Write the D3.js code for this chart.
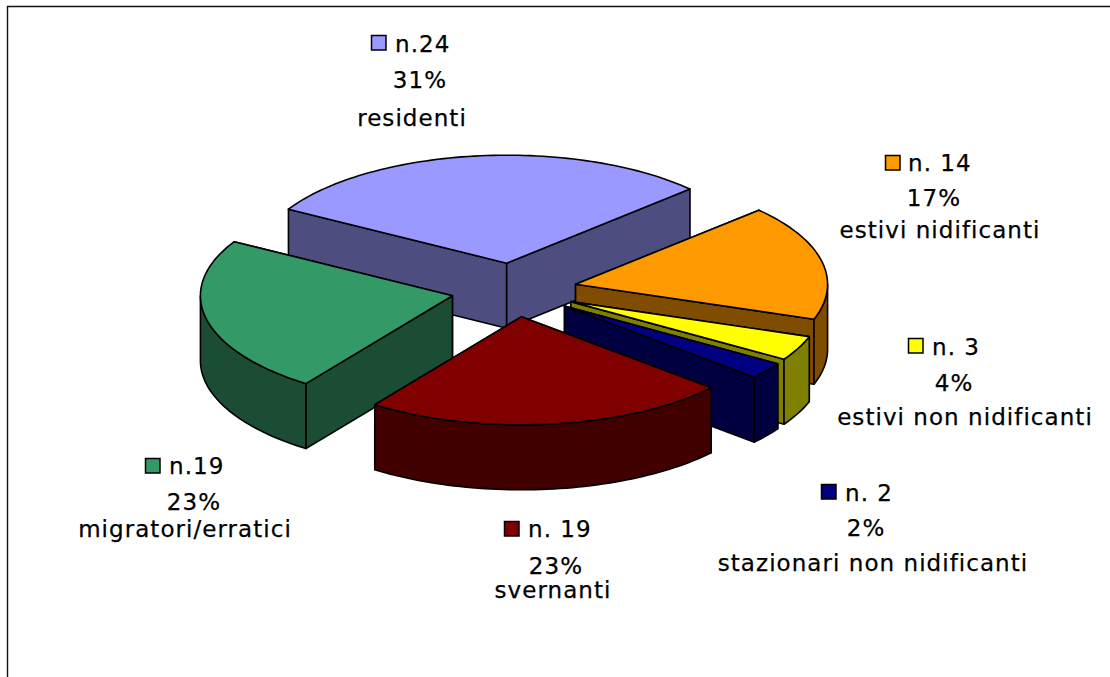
<!DOCTYPE html>
<html>
<head>
<meta charset="utf-8">
<script src="https://cdn.jsdelivr.net/npm/d3@7"></script>
<style>
  html, body { margin: 0; padding: 0; background: #fff; }
  svg { display: block; }
  .pie-label { font-family: "DejaVu Sans", sans-serif; font-size: 23px; letter-spacing: 1.05px; fill: #000; stroke: #000; stroke-width: 0.25px; }
</style>
</head>
<body>
<div id="chart"></div>
<script>
// counts and labels
const categories = ["residenti", "estivi nidificanti", "estivi non nidificanti", "stazionari non nidificanti", "svernanti", "migratori/erratici"];
const counts = [24, 14, 3, 2, 19, 19];
const countLabels = ["n.24", "n. 14", "n. 3", "n. 2", "n. 19", "n.19"];
const percentLabels = ["31%", "17%", "4%", "2%", "23%", "23%"];
const topColors = ["#9999ff", "#ff9900", "#ffff00", "#000080", "#800000", "#339966"];
const sideColors = ["#4d4d80", "#804d00", "#808000", "#000040", "#400000", "#1a4d33"];

(function drawPie() {
  const width = 1110;
  const height = 677;

  const svg = d3.select("#chart").append("svg")
    .attr("width", width)
    .attr("height", height);

  // frame, open on the right and at the bottom
  svg.append("path")
    .attr("d", d3.line()([[7.5, height], [7.5, 6.5], [width, 6.5]]))
    .attr("fill", "none")
    .attr("stroke", "#111")
    .attr("stroke-width", 1.4);

  // unit circle -> squashed ellipse on the page
  const x = d3.scaleLinear().domain([-1, 1]).range([262, 766]);
  const y = d3.scaleLinear().domain([-1, 1]).range([182, 398]);
  const depth = 65;
  const explode = 0.25;

  const startAngle = -60 * Math.PI / 180;
  const arcs = d3.pie().sort(null)
    .startAngle(startAngle)
    .endAngle(startAngle + 2 * Math.PI)(counts);

  const line = d3.line();
  const style = (sel, fill) => sel
    .attr("fill", fill)
    .attr("stroke", "#000")
    .attr("stroke-width", 1.6)
    .attr("stroke-linejoin", "round");

  function point(a, r, o) {
    return [x(o[0] + r * Math.sin(a)), y(o[1] - r * Math.cos(a))];
  }
  function rim(a0, a1, o) {
    const n = Math.max(2, Math.ceil(Math.abs(a1 - a0) * 40));
    return d3.range(n + 1).map(i => point(a0 + (a1 - a0) * i / n, 1, o));
  }
  const down = pts => pts.map(p => [p[0], p[1] + depth]);

  // back to front
  const order = [0, 1, 2, 3, 5, 4];
  order.forEach(i => {
    const d = arcs[i];
    const mid = (d.startAngle + d.endAngle) / 2;
    const o = [explode * Math.sin(mid), -explode * Math.cos(mid)];
    const g = svg.append("g");
    const apex = point(0, 0, o);

    const wall = a => {
      const p = point(a, 1, o);
      return line([apex, p, [p[0], p[1] + depth], [apex[0], apex[1] + depth]]) + "Z";
    };
    const walls = [d.startAngle, d.endAngle];
    // the wall on the far side goes first
    if (mid > Math.PI) walls.reverse();
    walls.forEach(a => style(g.append("path").attr("d", wall(a)), sideColors[i]));

    // outer wall, only the part turned to the viewer
    const a0 = Math.max(d.startAngle, Math.PI / 2);
    const a1 = Math.min(d.endAngle, 3 * Math.PI / 2);
    if (a1 > a0) {
      const edge = rim(a0, a1, o);
      style(g.append("path").attr("d", line(edge.concat(down(edge).reverse())) + "Z"), sideColors[i]);
    }

    const top = [apex].concat(rim(d.startAngle, d.endAngle, o));
    style(g.append("path").attr("d", line(top) + "Z"), topColors[i]);
  });

  // label placement: key square, count start, percent centre, name centre, baselines
  const labelLayout = [
    { kx: 371, ky: 35, nx: 395, ny: 52, px: 420, py: 88, cx: 412, cy: 126 },
    { kx: 885, ky: 155, nx: 908, ny: 171, px: 934, py: 206, cx: 940, cy: 238 },
    { kx: 908, ky: 338, nx: 932, ny: 355, px: 954, py: 391, cx: 965, cy: 425 },
    { kx: 821, ky: 484, nx: 845, ny: 501, px: 866, py: 536, cx: 873, cy: 571 },
    { kx: 504, ky: 521, nx: 528, ny: 537, px: 556, py: 574, cx: 553, cy: 598 },
    { kx: 145, ky: 458, nx: 169, ny: 474, px: 194, py: 510, cx: 185, cy: 537 }
  ];

  const labels = svg.append("g").selectAll("g")
    .data(labelLayout)
    .join("g");

  labels.append("rect")
    .attr("x", d => d.kx + 0.5)
    .attr("y", d => d.ky + 0.5)
    .attr("width", 14.5)
    .attr("height", 14.5)
    .attr("fill", (d, i) => topColors[i])
    .attr("stroke", "#000")
    .attr("stroke-width", 1.5);

  labels.append("text").attr("class", "pie-label")
    .attr("x", d => d.nx).attr("y", d => d.ny)
    .text((d, i) => countLabels[i]);

  labels.append("text").attr("class", "pie-label")
    .attr("x", d => d.px).attr("y", d => d.py)
    .attr("text-anchor", "middle")
    .text((d, i) => percentLabels[i]);

  labels.append("text").attr("class", "pie-label")
    .attr("x", d => d.cx).attr("y", d => d.cy)
    .attr("text-anchor", "middle")
    .text((d, i) => categories[i]);
})();
</script>
</body>
</html>
